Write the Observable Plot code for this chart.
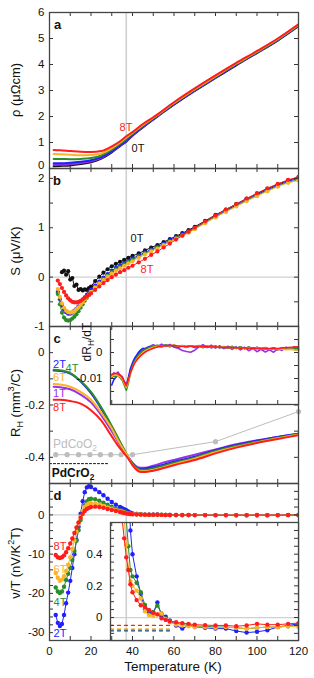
<!DOCTYPE html>
<html><head><meta charset="utf-8">
<script src="https://cdn.jsdelivr.net/npm/d3@7"></script>
<script src="https://cdn.jsdelivr.net/npm/@observablehq/plot@0.6"></script>
<style>
body{margin:0;background:#fff;}
#chart{position:relative;width:314px;height:678px;font-family:"Liberation Sans",Arial,sans-serif;color:#111;}
#chart svg{position:absolute;left:0;top:0;}
.lbl{position:absolute;transform:translate(-50%,-50%);white-space:nowrap;line-height:1;}
.rot{transform:translate(-50%,-50%) rotate(-90deg);}
sub,sup{font-size:70%;line-height:0;}
</style></head><body><div id="chart"></div><script>
// ---------- data ----------
const TN = 37; // vertical marker temperature
// panel a: resistivity
const tA = [2,5,10,15,20,25,30,34,37,40,45,50,60,70,80,90,100,110,120];
const rho0T = [0.09,0.10,0.12,0.17,0.24,0.38,0.62,0.86,1.03,1.26,1.58,1.88,2.45,2.98,3.48,3.97,4.44,4.92,5.47];
const rho1T = [0.14,0.14,0.16,0.21,0.28,0.41,0.65,0.88,1.06,1.28,1.60,1.90,2.47,3.00,3.50,3.99,4.46,4.94,5.49];
const rho2T = [0.20,0.20,0.22,0.26,0.32,0.44,0.67,0.90,1.09,1.30,1.62,1.91,2.48,3.01,3.51,4.00,4.47,4.95,5.50];
const rho4T = [0.37,0.37,0.36,0.37,0.40,0.50,0.72,0.95,1.14,1.34,1.65,1.93,2.50,3.03,3.53,4.02,4.48,4.96,5.51];
const rho6T = [0.56,0.55,0.53,0.51,0.52,0.58,0.78,1.00,1.19,1.37,1.68,1.95,2.52,3.05,3.55,4.04,4.50,4.98,5.53];
const rho8T = [0.71,0.70,0.67,0.64,0.63,0.67,0.85,1.05,1.24,1.40,1.71,1.97,2.55,3.08,3.58,4.06,4.52,5.00,5.55];
// panel b: thermopower
const tB = [4,5,6,7,8,9,10,11,12,13,14,15,16,17,18,19,20,22,24,26,28,30,32,34,36,38,40,43,46,49,52,55,58,61,64,67,70,75,80,85,90,95,100,105,110,115,120];
const S0T = [null,null,0.10,0.13,0.05,0.12,-0.05,-0.02,-0.18,-0.15,-0.26,-0.24,-0.27,-0.25,-0.26,-0.22,-0.19,-0.08,0.01,0.09,0.16,0.22,0.27,0.31,0.35,0.39,0.43,0.48,0.54,0.60,0.65,0.71,0.77,0.83,0.89,0.95,1.02,1.14,1.26,1.37,1.48,1.59,1.69,1.79,1.88,1.96,2.02];
const S2T = [-0.30,-0.45,-0.58,-0.66,-0.71,-0.74,-0.74,-0.72,-0.68,-0.64,-0.59,-0.53,-0.47,-0.41,-0.36,-0.31,-0.26,-0.17,-0.09,-0.01,0.06,0.13,0.19,0.24,0.29,0.33,0.38,0.44,0.50,0.56,0.62,0.68,0.75,0.81,0.87,0.93,1.00,1.12,1.24,1.35,1.46,1.57,1.67,1.77,1.86,1.94,2.00];
const S4T = [-0.34,-0.55,-0.72,-0.82,-0.87,-0.88,-0.87,-0.84,-0.80,-0.75,-0.69,-0.62,-0.55,-0.48,-0.42,-0.36,-0.30,-0.20,-0.12,-0.04,0.03,0.10,0.16,0.21,0.26,0.31,0.35,0.42,0.48,0.54,0.60,0.66,0.72,0.79,0.85,0.91,0.98,1.10,1.22,1.33,1.44,1.55,1.65,1.75,1.84,1.92,1.97];
const S6T = [-0.24,-0.40,-0.53,-0.62,-0.68,-0.71,-0.72,-0.71,-0.69,-0.65,-0.61,-0.56,-0.51,-0.45,-0.40,-0.35,-0.30,-0.21,-0.13,-0.06,0.01,0.07,0.13,0.18,0.23,0.28,0.32,0.39,0.46,0.52,0.58,0.65,0.71,0.78,0.84,0.90,0.97,1.09,1.21,1.32,1.43,1.54,1.64,1.74,1.83,1.91,1.96];
const S8T = [-0.07,-0.14,-0.22,-0.30,-0.37,-0.43,-0.47,-0.50,-0.51,-0.51,-0.50,-0.48,-0.45,-0.42,-0.39,-0.36,-0.33,-0.26,-0.19,-0.12,-0.06,0.00,0.05,0.10,0.14,0.19,0.23,0.30,0.37,0.45,0.52,0.60,0.68,0.76,0.84,0.92,1.00,1.13,1.25,1.37,1.48,1.59,1.70,1.80,1.89,1.97,2.03];
// panel c: Hall coefficient
const tC = [2,5,10,15,20,25,30,33,36,38,40,42,44,46,50,55,60,70,80,90,100,110,120];
const RH1T = [-0.13,-0.132,-0.14,-0.16,-0.19,-0.24,-0.30,-0.34,-0.38,-0.40,-0.42,-0.435,-0.44,-0.44,-0.432,-0.42,-0.41,-0.39,-0.37,-0.35,-0.335,-0.322,-0.31];
const RH2T = [-0.068,-0.07,-0.08,-0.11,-0.155,-0.215,-0.285,-0.33,-0.375,-0.40,-0.425,-0.44,-0.445,-0.443,-0.438,-0.428,-0.417,-0.398,-0.373,-0.353,-0.337,-0.322,-0.31];
const RH4T = [-0.065,-0.067,-0.078,-0.108,-0.15,-0.21,-0.28,-0.325,-0.37,-0.40,-0.425,-0.44,-0.447,-0.447,-0.442,-0.432,-0.421,-0.401,-0.376,-0.356,-0.34,-0.325,-0.312];
const RH6T = [-0.12,-0.122,-0.13,-0.15,-0.18,-0.23,-0.29,-0.335,-0.375,-0.40,-0.43,-0.446,-0.453,-0.453,-0.448,-0.438,-0.426,-0.405,-0.38,-0.36,-0.343,-0.327,-0.313];
const RH8T = [-0.18,-0.18,-0.185,-0.195,-0.22,-0.26,-0.32,-0.355,-0.385,-0.405,-0.43,-0.448,-0.456,-0.456,-0.451,-0.441,-0.43,-0.41,-0.385,-0.363,-0.345,-0.33,-0.315];
const tCo = [3,8.5,14,19.5,24.5,29.5,34.5,40,80,120];
const RHCo = [-0.39,-0.39,-0.39,-0.39,-0.39,-0.39,-0.39,-0.39,-0.34,-0.225];
const tCr = [0,28.5];
const RHCr = [-0.424,-0.424];
// inset c: dRH/dT
const tI = [30,31,32,33,34,35,36,37,38,39,40,41,42,43,44,45,46,48,50,52,54,56,58,60,62,64,66,68,70,72,74,76,78,80,82,84,86,88,90,92,94,96,98,100,102,104,106,108,110,112,114,116,118,120];
const dR1T = [-0.0090,-0.0078,-0.0085,-0.0075,-0.0088,-0.0092,-0.0110,-0.0125,-0.0100,-0.0068,-0.0048,-0.0030,-0.0015,-0.0006,0.0004,0.0010,0.0016,0.0022,0.0030,0.0022,0.0032,0.0024,0.0031,0.0020,0.0016,0.0008,0.0004,0.0001,0.0009,0.0022,0.0030,0.0019,0.0028,0.0017,0.0026,0.0015,0.0024,0.0012,0.0022,0.0010,0.0020,0.0007,0.0016,0.0003,0.0012,0.0002,0.0010,0.0001,0.0014,0.0008,0.0020,0.0012,0.0022,0.0016];
const dR2T = [-0.0125,-0.0105,-0.0095,-0.0088,-0.0094,-0.0100,-0.0118,-0.0133,-0.0098,-0.0062,-0.0040,-0.0022,-0.0010,0.0002,0.0010,0.0016,0.0012,0.0022,0.0018,0.0027,0.0021,0.0028,0.0022,0.0027,0.0020,0.0026,0.0021,0.0025,0.0019,0.0026,0.0020,0.0024,0.0018,0.0023,0.0019,0.0022,0.0017,0.0022,0.0016,0.0021,0.0015,0.0020,0.0016,0.0019,0.0014,0.0018,0.0013,0.0017,0.0012,0.0016,0.0013,0.0017,0.0012,0.0010];
const dR4T = [-0.0098,-0.0090,-0.0094,-0.0089,-0.0097,-0.0106,-0.0125,-0.0145,-0.0118,-0.0080,-0.0052,-0.0035,-0.0019,-0.0010,-0.0001,0.0006,0.0012,0.0019,0.0024,0.0028,0.0023,0.0030,0.0024,0.0029,0.0021,0.0027,0.0019,0.0026,0.0021,0.0027,0.0018,0.0025,0.0019,0.0026,0.0017,0.0023,0.0016,0.0024,0.0015,0.0022,0.0014,0.0021,0.0013,0.0020,0.0012,0.0019,0.0011,0.0018,0.0010,0.0017,0.0012,0.0019,0.0014,0.0018];
const dR6T = [-0.0092,-0.0088,-0.0086,-0.0090,-0.0093,-0.0101,-0.0118,-0.0135,-0.0112,-0.0082,-0.0060,-0.0040,-0.0027,-0.0016,-0.0008,-0.0001,0.0005,0.0014,0.0020,0.0024,0.0022,0.0027,0.0025,0.0029,0.0024,0.0026,0.0022,0.0026,0.0023,0.0025,0.0021,0.0024,0.0020,0.0023,0.0019,0.0021,0.0018,0.0020,0.0017,0.0019,0.0016,0.0018,0.0015,0.0017,0.0014,0.0016,0.0013,0.0015,0.0012,0.0014,0.0011,0.0013,0.0010,0.0009];
const dR8T = [-0.0085,-0.0082,-0.0080,-0.0083,-0.0086,-0.0095,-0.0112,-0.0128,-0.0105,-0.0078,-0.0058,-0.0042,-0.0030,-0.0020,-0.0012,-0.0005,0.0001,0.0010,0.0016,0.0021,0.0024,0.0026,0.0027,0.0027,0.0025,0.0023,0.0024,0.0025,0.0024,0.0023,0.0022,0.0023,0.0021,0.0022,0.0020,0.0019,0.0020,0.0018,0.0018,0.0017,0.0018,0.0016,0.0017,0.0015,0.0016,0.0014,0.0015,0.0016,0.0015,0.0017,0.0019,0.0019,0.0021,0.0022];
// panel d: Nernst nu/T
const tD = [3,4,5,6,7,8,9,10,11,12,13,14,15,16,17,18,19,20,22,24,26,28,30,32,34,35,36,37,38,39,40,42,44,46,48,50,52,54,56,58,61,64,67,70,75,80,85,90,95,100,105,110,115,120];
const nu2T = [-25.5,-27.5,-28.3,-27.8,-25.5,-22.5,-19.8,-16.8,-13.5,-10.0,-6.4,-3.0,0.3,3.5,5.8,7.0,7.3,7.1,6.5,5.8,5.0,4.1,3.3,2.6,2.0,1.7,1.45,1.2,0.9,0.55,0.40,0.26,0.15,0.05,0.025,0.03,0.095,0.015,0.005,-0.02,-0.05,-0.07,-0.05,-0.06,-0.065,-0.07,-0.07,-0.085,-0.095,-0.09,-0.08,-0.06,-0.05,-0.04];
const nu4T = [-18.5,-19.5,-19.9,-19.5,-18.3,-16.6,-15.0,-13.5,-11.5,-9.2,-6.6,-3.9,-1.3,1.0,2.5,3.4,4.0,4.1,4.0,3.6,3.1,2.6,2.1,1.6,1.2,1.0,0.8,0.62,0.45,0.3,0.26,0.22,0.16,0.08,0.045,0.035,0.075,0.025,-0.005,-0.02,-0.035,-0.045,-0.05,-0.055,-0.055,-0.06,-0.06,-0.065,-0.07,-0.065,-0.06,-0.06,-0.055,-0.05];
const nu6T = [-14.8,-16.0,-16.8,-16.5,-15.6,-14.3,-12.7,-10.8,-8.7,-6.5,-4.3,-2.2,-0.4,1.0,2.0,2.6,2.9,3.0,2.9,2.6,2.3,1.9,1.6,1.25,0.95,0.8,0.62,0.46,0.32,0.23,0.2,0.17,0.12,0.04,0.015,0.01,0.02,0.025,-0.01,-0.03,-0.045,-0.05,-0.055,-0.06,-0.06,-0.065,-0.06,-0.065,-0.07,-0.065,-0.06,-0.06,-0.055,-0.06];
const nu8T = [-10.2,-10.8,-11.0,-10.8,-10.3,-9.5,-8.5,-7.3,-6.0,-4.6,-3.2,-1.9,-0.7,0.3,1.0,1.5,1.8,2.0,2.1,2.0,1.8,1.5,1.25,1.0,0.75,0.62,0.50,0.38,0.30,0.21,0.16,0.11,0.078,0.067,0.046,0.03,0.02,-0.005,-0.015,-0.023,-0.03,-0.035,-0.04,-0.045,-0.048,-0.05,-0.05,-0.055,-0.05,-0.04,-0.045,-0.045,-0.04,-0.035];
// inset d: dashed reference levels
const tRef = [29.4,58];
const ref2T = [-0.084,-0.084], ref4T = [-0.078,-0.078], ref6T = [-0.072,-0.072], ref8T = [-0.05,-0.05];
// ticks
const xMain = [0,10,20,30,40,50,60,70,80,90,100,110,120];
const xInset = [30,40,50,60,70,80,90,100,110,120];
const xLab = [0,20,40,60,80,100,120];

// ---------- drawing ----------
const W=314, H=678, L=49, R=298;
const C = {k:"#111", p:"#9a30e8", b:"#1f1fff", g:"#2b8c2b", o:"#fbb328", r:"#ff1c1c", gray:"#bdbdbd", vline:"#d0d0d0"};
const zip = (t, v) => t.map((x,i)=>({T:x, v:v[i]})).filter(d=>d.v!=null);
const fmt = d => String(d);
const FONT = '"Liberation Sans", Arial, sans-serif';

function panel({top, bottom, left=L, xDomain=[0,120], yDomain, yTicks, yMinor, xMinor=xMain, xLabels=false, marks, bg=false, tickPad=5}) {
  const iw = R-left, ih = bottom-top, tl = 4;
  return Plot.plot({
    width: W, height: H,
    marginTop: top, marginBottom: H-bottom, marginLeft: left, marginRight: W-R,
    style: {background:"transparent", fontFamily:FONT, fontSize:"11.5px", color:"#111", overflow:"visible"},
    x: xLabels ? {domain:xDomain, ticks:xLab, tickSize:0, tickPadding:6, label:null, tickFormat:fmt} : {domain:xDomain, axis:null},
    y: {domain:yDomain, ticks:yTicks, tickSize:0, tickPadding:tickPad, tickFormat:fmt, label:null},
    marks: [
      bg ? Plot.frame({fill:"white"}) : null,
      ...marks,
      Plot.tickY(yMinor, {y:d=>d, insetRight: iw-tl, stroke:"#333"}),
      Plot.tickY(yMinor, {y:d=>d, insetLeft: iw-tl, stroke:"#333"}),
      Plot.tickX(xMinor, {x:d=>d, insetBottom: ih-tl, stroke:"#333"}),
      Plot.tickX(xMinor, {x:d=>d, insetTop: ih-tl, stroke:"#333"}),
      Plot.frame({stroke:"#444", strokeWidth:1.3})
    ]
  });
}
const vline = Plot.ruleX([TN], {stroke:C.vline, strokeWidth:1.6});
const zero = Plot.ruleY([0], {stroke:C.vline, strokeWidth:1.3});
const lineS = (t, v, c, w=2) => Plot.line(zip(t,v), {x:"T", y:"v", stroke:c, strokeWidth:w, curve:"monotone-x", clip:true});
const dotS = (t, v, c, r=2) => Plot.dot(zip(t,v), {x:"T", y:"v", fill:c, r, clip:true});

const chart = document.getElementById("chart");

chart.append(panel({top:12, bottom:168, yDomain:[0,6], yTicks:[1,2,3,4,5,6], yMinor:[0,1,2,3,4,5,6],
  marks:[vline,
    Plot.text([0], {y:d=>d, text:fmt, frameAnchor:"left", textAnchor:"end", dx:-5, dy:-3, fontSize:11.5, fill:"#111"}),
    lineS(tA,rho0T,C.k), lineS(tA,rho1T,C.p), lineS(tA,rho2T,C.b),
    lineS(tA,rho4T,C.g), lineS(tA,rho6T,C.o), lineS(tA,rho8T,C.r)]}));

const bSeries = [[S0T,C.k],[S2T,C.b],[S4T,C.g],[S6T,C.o],[S8T,C.r]];
chart.append(panel({top:168, bottom:326, yDomain:[-1,2.2], yTicks:[-1,0,1,2], yMinor:[-1,-0.5,0,0.5,1,1.5,2],
  marks:[zero, vline, ...bSeries.flatMap(([v,c]) => [Plot.line(zip(tB,v),{x:"T",y:"v",stroke:c,strokeWidth:1}), dotS(tB,v,c,2.1)])]}));

chart.append(panel({top:326, bottom:483, yDomain:[-0.5,0.1], yTicks:[-0.4,-0.2,0], yMinor:[-0.5,-0.4,-0.3,-0.2,-0.1,0,0.1],
  marks:[vline,
    Plot.line(zip(tCo,RHCo),{x:"T",y:"v",stroke:C.gray,strokeWidth:1}),
    Plot.dot(zip(tCo,RHCo),{x:"T",y:"v",fill:C.gray,r:2.6}),
    Plot.line(zip(tCr,RHCr),{x:"T",y:"v",stroke:"#111",strokeWidth:1,strokeDasharray:"2,2"}),
    lineS(tC,RH1T,C.p), lineS(tC,RH2T,C.b), lineS(tC,RH4T,C.g), lineS(tC,RH6T,C.o), lineS(tC,RH8T,C.r)]}));

chart.append(panel({top:326, bottom:404, left:110, xDomain:[29.4,120], yDomain:[-0.02,0.01], yTicks:[-0.01,0],
  yMinor:[-0.02,-0.015,-0.01,-0.005,0,0.005,0.01], xMinor:xInset, bg:true, tickPad:8,
  marks:[vline,
    Plot.line(zip(tI,dR1T),{x:"T",y:"v",stroke:C.p,strokeWidth:1.6}),
    Plot.line(zip(tI,dR2T),{x:"T",y:"v",stroke:C.b,strokeWidth:1.6}),
    Plot.line(zip(tI,dR4T),{x:"T",y:"v",stroke:C.g,strokeWidth:1.6}),
    Plot.line(zip(tI,dR6T),{x:"T",y:"v",stroke:C.o,strokeWidth:1.6}),
    Plot.line(zip(tI,dR8T),{x:"T",y:"v",stroke:C.r,strokeWidth:1.6})]}));

const dSeries = [[nu2T,C.b],[nu4T,C.g],[nu6T,C.o],[nu8T,C.r]];
chart.append(panel({top:483, bottom:640, yDomain:[-32,8], yTicks:[-30,-20,-10,0],
  yMinor:[-32,-30,-28,-26,-24,-22,-20,-18,-16,-14,-12,-10,-8,-6,-4,-2,0,2,4,6,8], xLabels:true,
  marks:[zero, vline, ...dSeries.flatMap(([v,c]) => [Plot.line(zip(tD,v),{x:"T",y:"v",stroke:c,strokeWidth:1,clip:true}), dotS(tD,v,c,2.2)])]}));

const refs = [[ref2T,C.b],[ref4T,C.g],[ref6T,C.o],[ref8T,C.r]];
chart.append(panel({top:522, bottom:640, left:110, xDomain:[29.4,120], yDomain:[-0.145,0.6], yTicks:[0,0.2,0.4],
  yMinor:[-0.1,-0.05,0,0.05,0.1,0.15,0.2,0.25,0.3,0.35,0.4,0.45,0.5,0.55], xMinor:xInset, bg:true, tickPad:8,
  marks:[zero, vline,
    ...refs.map(([v,c]) => Plot.line(zip(tRef,v),{x:"T",y:"v",stroke:c,strokeWidth:1.3,strokeDasharray:"3,4"})),
    ...dSeries.flatMap(([v,c]) => [Plot.line(zip(tD,v),{x:"T",y:"v",stroke:c,strokeWidth:1,clip:true}), dotS(tD,v,c,2.2)])]}));

// ---------- text ----------
function label(html, x, y, {size=11, color="#111", bold=false, rot=false}={}) {
  const d = document.createElement("div");
  d.className = "lbl" + (rot ? " rot" : "");
  d.style.left = x + "px"; d.style.top = y + "px";
  d.style.fontSize = size + "px"; d.style.color = color;
  if (bold) d.style.fontWeight = "bold";
  d.innerHTML = html;
  chart.append(d);
}
label("a", 57.5, 24, {size:13, bold:true});
label("b", 57, 180, {size:13, bold:true});
label("c", 57, 338, {size:13, bold:true});
label("d", 57.5, 495, {size:13, bold:true});
label("8T", 126, 127, {color:C.r});
label("0T", 138, 148);
label("0T", 137, 238);
label("8T", 147, 269, {color:C.r});
label("2T", 59.5, 364, {color:C.b});
label("4T", 72, 368, {color:C.g});
label("6T", 59.5, 377, {color:C.o});
label("1T", 59.5, 392.5, {color:C.p});
label("8T", 59.5, 407, {color:C.r});
label("PdCoO<sub>2</sub>", 75, 444, {size:12, color:C.gray});
label("PdCrO<sub>2</sub>", 73, 473, {size:12, bold:true});
label("8T", 60, 546, {color:C.r});
label("6T", 60, 569, {color:C.o});
label("4T", 60, 602, {color:C.g});
label("2T", 60, 633, {color:C.b});
label("ρ (μΩcm)", 15, 90, {size:13, rot:true});
label("S (μV/K)", 15, 251, {size:13, rot:true});
label("R<sub>H</sub> (mm<sup>3</sup>/C)", 15, 403, {size:13, rot:true});
label("ν/T (nV/K<sup>2</sup>T)", 15, 563, {size:13, rot:true});
label("dR<sub>H</sub>/dT", 87, 342, {size:12, rot:true});
label("Temperature (K)", 173, 667, {size:13.5});
</script></body></html>
